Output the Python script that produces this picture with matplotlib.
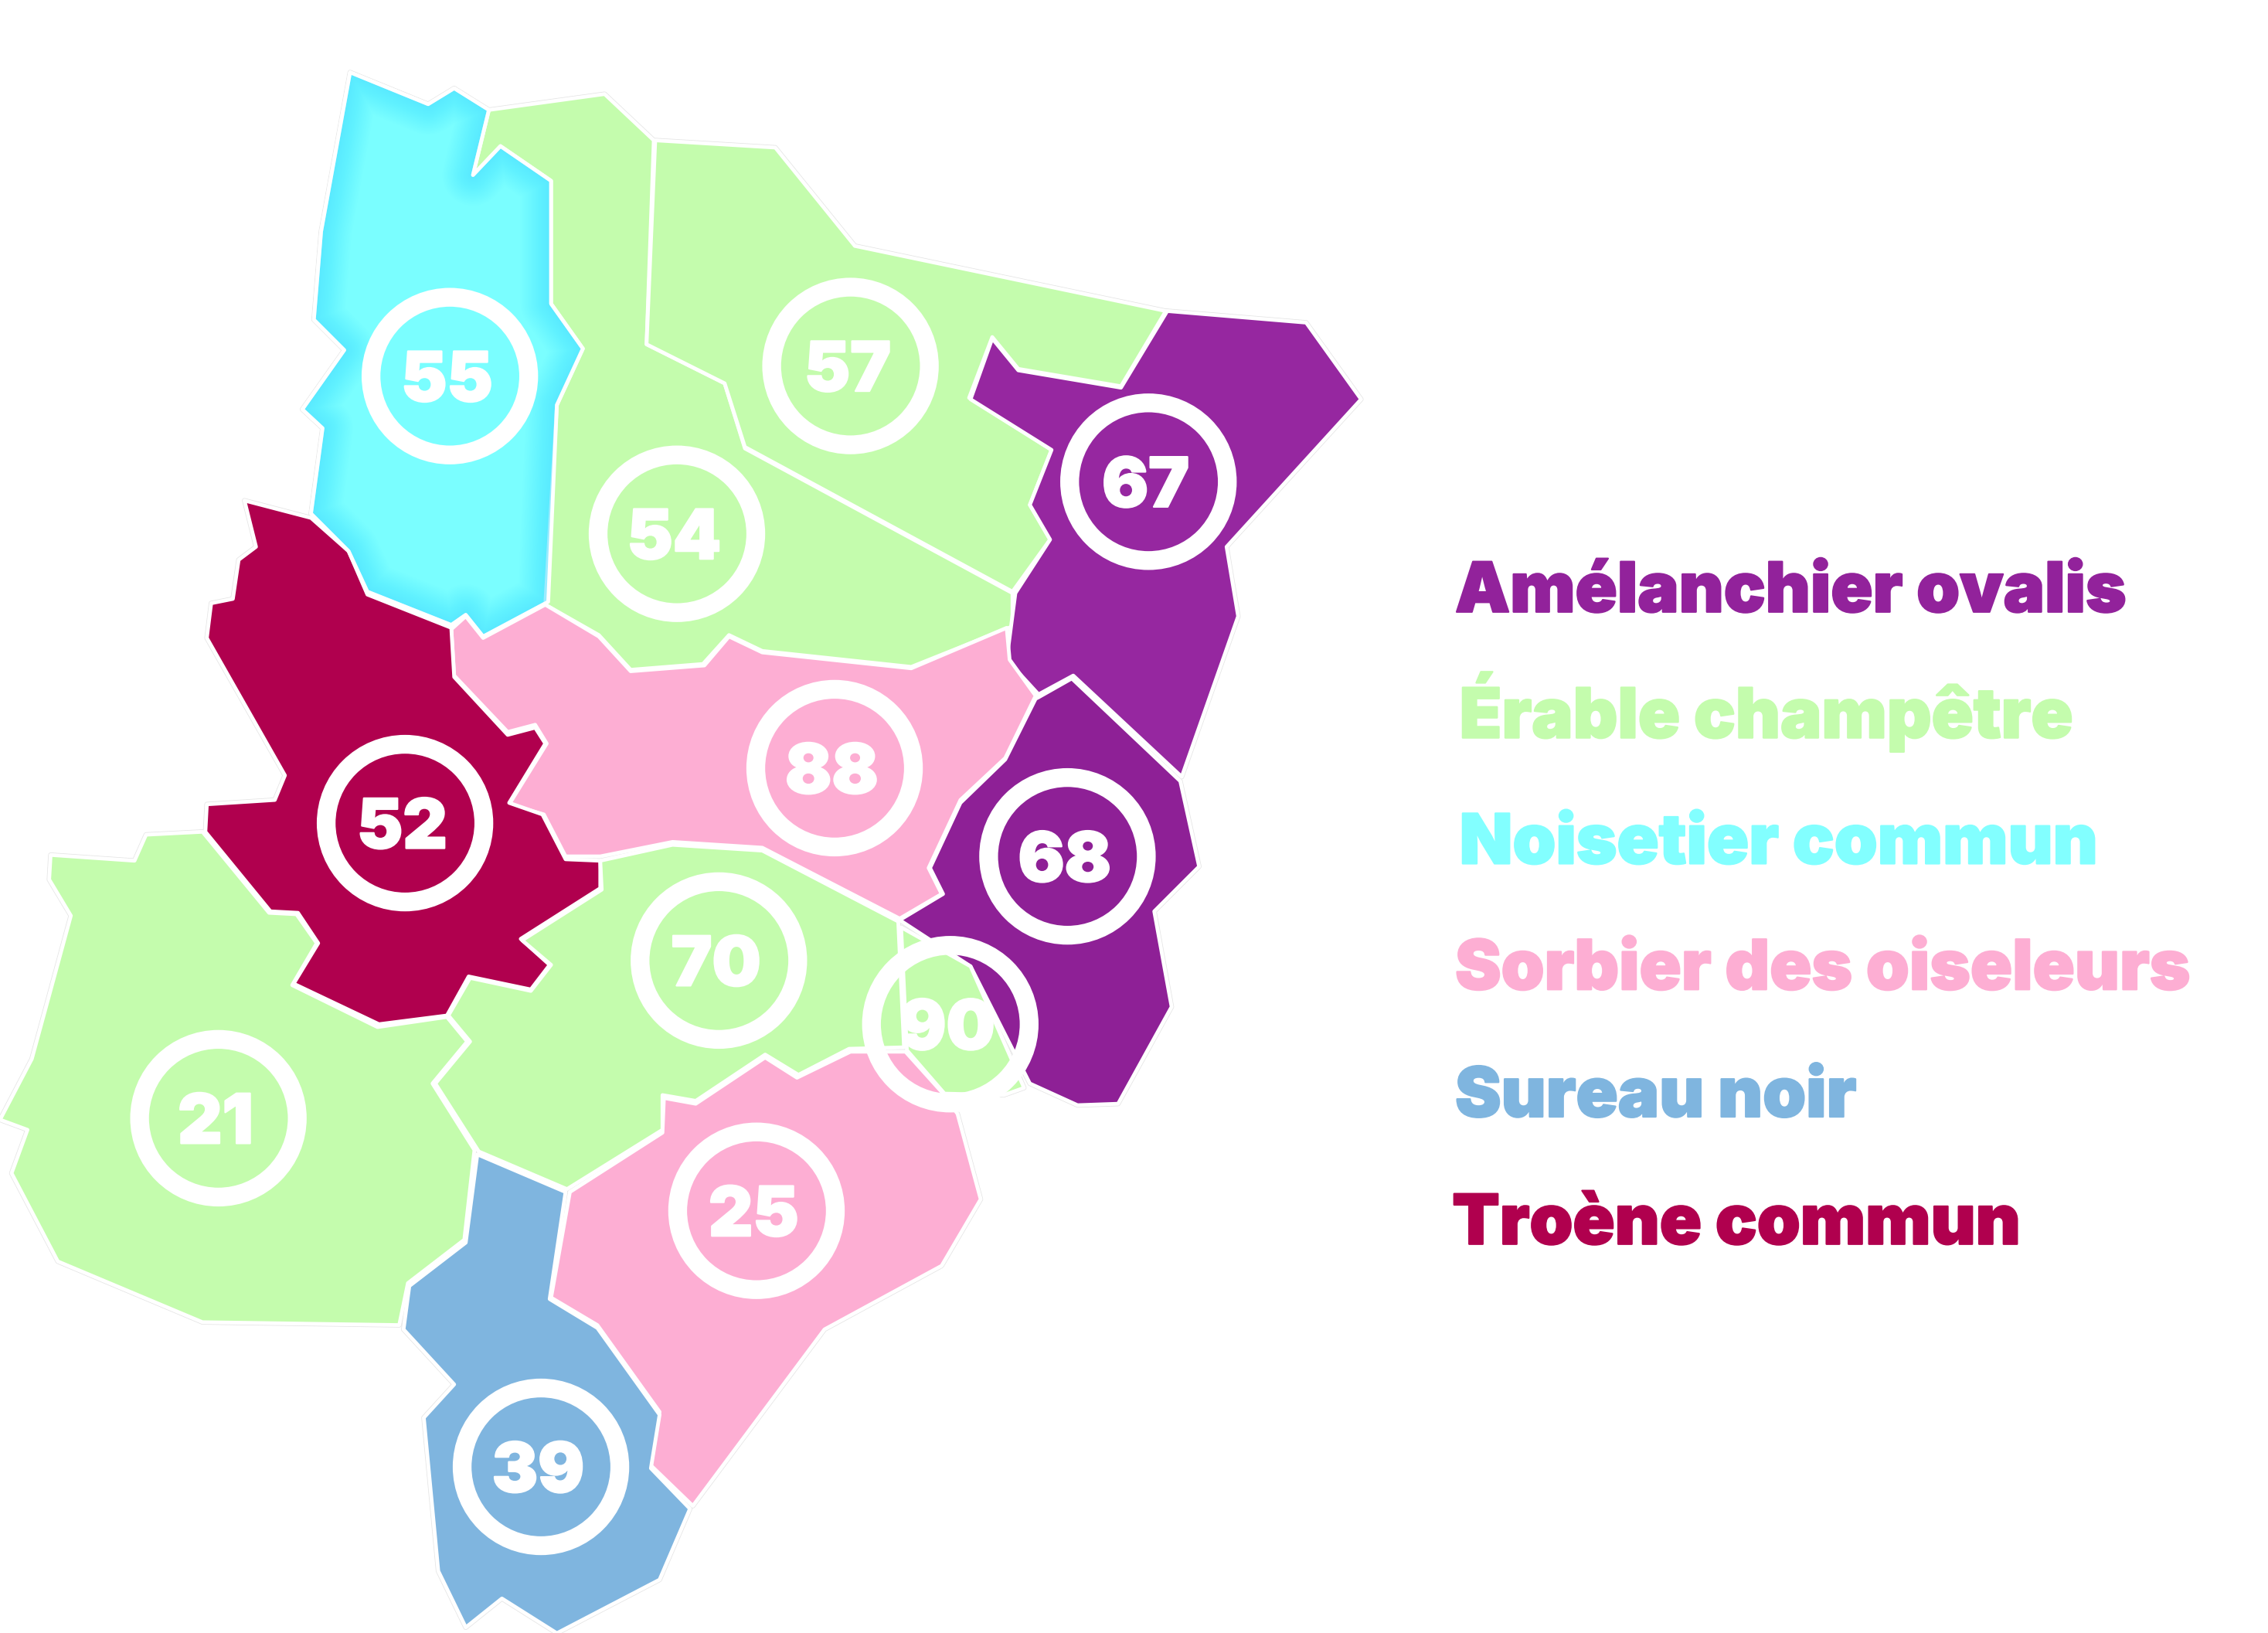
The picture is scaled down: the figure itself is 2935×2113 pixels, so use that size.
# Carte des départements et essence associée
import matplotlib
matplotlib.use("Agg")
import matplotlib.pyplot as plt
import matplotlib.patheffects as pe
from matplotlib.patches import Polygon, Circle

plt.rcParams['font.family'] = ['Inter', 'Roboto', 'DejaVu Sans']

# Essences (légende)
especes = ["Amélanchier ovalis", "Érable champêtre", "Noisetier commun",
           "Sorbier des oiseleurs", "Sureau noir", "Troène commun"]
couleurs = ["#92229B", "#C4FCAD", "#82FFFF", "#FDAED3", "#7FB5DF", "#B0004E"]

# Contours des départements
dept_55 = [(242,50),(296,72),(314,61),(338,76),(327,121),(346,101),(381,125),(381,210),(403,241),(385,280),(379,416),(334,440),(322,425),(312,432),(254,409),(241,381),(215,355),(223,296),(209,283),(238,242),(217,221),(222,160)]
dept_54 = [(338,76),(418,65),(452,97),(447,238),(501,265),(515,310),(700,410),(700,433),(630,461),(527,450),(504,439),(486,459),(436,463),(414,439),(377,418),(385,280),(403,241),(381,210),(381,125),(346,101),(327,121)]
dept_57 = [(453,97),(536,102),(591,170),(806,215),(775,267),(704,255),(686,233),(670,275),(727,311),(712,349),(726,373),(700,409),(515,309),(501,265),(447,238)]
dept_67 = [(807,215),(903,223),(941,276),(848,378),(856,426),(817,537),(742,467),(718,480),(696,456),(702,410),(726,373),(712,349),(727,311),(671,276),(686,234),(704,256),(775,268)]
dept_68 = [(718,482),(741,469),(816,540),(829,599),(798,630),(810,696),(773,763),(745,764),(712,749),(671,668),(622,636),(652,618),(643,600),(664,555),(695,525),(716,483)]
dept_90 = [(623,641),(671,668),(708,752),(694,757),(653,756),(627,726)]
dept_88 = [(312,435),(322,426),(334,441),(377,418),(414,440),(436,464),(487,460),(504,440),(527,451),(630,462),(696,434),(698,456),(716,481),(695,524),(664,553),(642,600),(651,618),(622,635),(527,586),(465,582),(415,592),(391,592),(376,563),(352,556),(378,514),(370,501),(351,506),(314,467)]
dept_52 = [(169,346),(215,358),(241,381),(254,411),(312,434),(314,468),(351,508),(370,503),(377,514),(352,555),(375,563),(391,594),(415,595),(415,614),(360,649),(380,667),(367,684),(324,675),(309,702),(262,708),(203,680),(220,652),(206,631),(187,630),(142,575),(143,556),(190,553),(197,536),(143,441),(146,417),(161,414),(165,387),(177,378)]
dept_21 = [(35,591),(93,595),(101,577),(140,575),(186,631),(205,632),(219,652),(202,681),(261,710),(309,703),(323,720),(299,749),(328,795),(321,857),(282,887),(276,916),(140,914),(40,872),(8,811),(19,781),(0,774),(22,732),(49,633),(34,608)]
dept_70 = [(415,595),(465,584),(527,588),(621,637),(625,724),(587,725),(552,743),(529,729),(481,761),(458,757),(458,781),(392,822),(331,796),(301,749),(325,720),(310,702),(325,676),(367,685),(381,667),(361,650),(416,615)]
dept_25 = [(394,824),(458,783),(459,759),(481,763),(529,731),(551,745),(588,727),(626,727),(653,757),(662,770),(678,829),(651,875),(570,919),(479,1041),(450,1013),(456,976),(413,916),(381,897)]
dept_39 = [(330,798),(391,824),(380,898),(413,918),(456,978),(450,1015),(477,1043),(456,1092),(385,1129),(347,1105),(322,1125),(303,1086),(293,980),(314,957),(279,919),(283,889),(322,859)]

# numéro, contour, couleur sur la carte, centre de la pastille
numeros = ["55", "54", "57", "67", "68", "88", "52", "21", "70", "25", "39", "90"]
contours = [dept_55, dept_54, dept_57, dept_67, dept_68, dept_88, dept_52, dept_21, dept_70, dept_25, dept_39, dept_90]
teintes = ["#7AFEFF", "#C4FCAD", "#C4FCAD", "#9627A0", "#8E2096", "#FDAED3", "#B0004E", "#C4FCAD", "#C4FCAD", "#FDAED3", "#7FB5DF", "#C4FCAD"]
centres = [(311,260),(468,369),(588,253),(794,333),(738,592),(577,531),(280,569),(151,773),(497,664),(523,837),(374,1014),(657,708)]

# Position des lignes de légende (ligne de base)
legende_x = [1006, 1009, 1009, 1006, 1006, 1004]
legende_y = [423, 510, 597, 684, 772, 860]

L, H = 2935, 2113
K = L / 1568  # échelle image affichée -> pixels
fig = plt.figure(figsize=(L / 100, H / 100), dpi=100, facecolor="white")
ax = fig.add_axes([0, 0, 1, 1])
ax.set_xlim(0, 1568)
ax.set_ylim(H / K, 0)
ax.axis("off")

pt = K * 72 / 100  # une unité de carte en points

# Polygones
for contour, c in zip(contours, teintes):
    ax.add_patch(Polygon(contour, closed=True, facecolor=c, edgecolor="#e4e4e4",
                         linewidth=3.4 * pt, joinstyle="round", zorder=2))
for contour, c in zip(contours, teintes):
    ax.add_patch(Polygon(contour, closed=True, facecolor=c, edgecolor="white",
                         linewidth=2.6 * pt, joinstyle="round", zorder=3))

# Reflet plus soutenu sur le bord du 55, en fines couches
fond_55 = Polygon(dept_55, closed=True, transform=ax.transData)
for largeur in range(4, 44, 2):
    reflet = Polygon(dept_55, closed=True, fill=False, edgecolor="#45E8FF", alpha=0.035,
                     linewidth=largeur * pt, joinstyle="round", zorder=3.2)
    ax.add_patch(reflet)
    reflet.set_clip_path(fond_55)
ax.add_patch(Polygon(dept_55, closed=True, fill=False, edgecolor="white",
                     linewidth=2.6 * pt, joinstyle="round", zorder=3.4))

# Pastilles et numéros
for num, (cx, cy) in zip(numeros, centres):
    ax.add_patch(Circle((cx, cy), 54.5, fill=False, edgecolor="white", linewidth=13 * pt, zorder=4))
    ax.text(cx - 2, cy, num, color="white", fontsize=47.5 * pt, fontweight="black",
            ha="center", va="center_baseline", zorder=5,
            path_effects=[pe.withStroke(linewidth=1.2 * pt, foreground="white")])

# Légende
for nom, c, x, y in zip(especes, couleurs, legende_x, legende_y):
    ax.text(x, y, nom, color=c, fontsize=47.8 * pt, fontweight="black", ha="left", va="baseline",
            path_effects=[pe.withStroke(linewidth=1.2 * pt, foreground=c)])

fig.savefig("out.png", dpi=100, facecolor="white")
